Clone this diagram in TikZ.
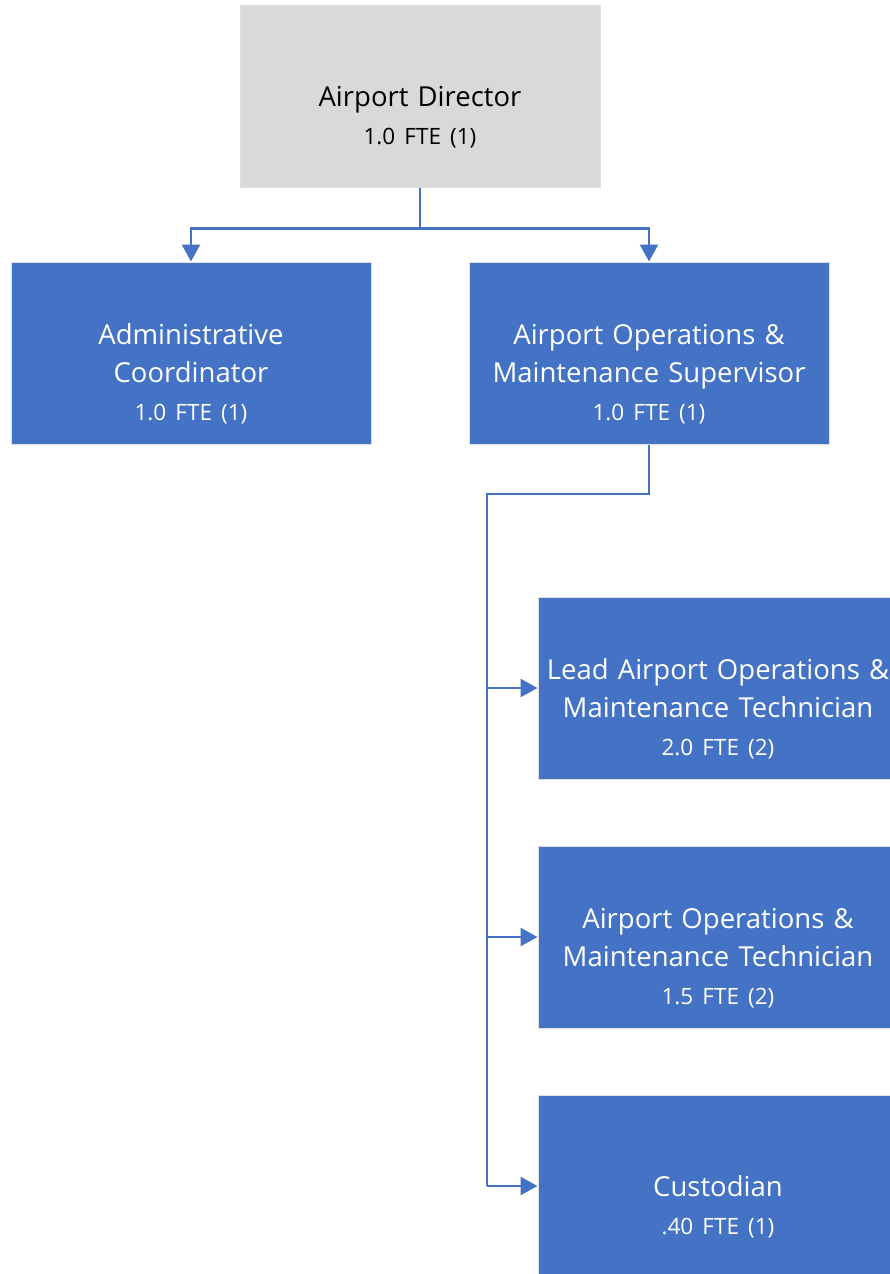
\documentclass[tikz,border=0pt]{standalone}
\usepackage{fontspec}
\setmainfont{Open Sans}
\usetikzlibrary{arrows.meta}
\definecolor{blue}{HTML}{4472C4}
\definecolor{grey}{HTML}{D9D9D9}
\newcommand{\fte}[1]{\\{\fontsize{22.5}{38}\selectfont #1}}

\begin{document}
\begin{tikzpicture}[x=1pt,y=-1pt,
  role/.style={fill=blue,draw=black!12,line width=1pt,text=white,minimum width=360pt,minimum height=182pt,
    inner sep=0pt,text width=356pt,align=center,font=\fontsize{27.5}{38}\selectfont,
    execute at begin node={\rule{0pt}{62pt}}},
  head/.style={role,fill=grey,text=black},
  conn/.style={draw=blue,line width=2.8pt,-{Triangle[width=18pt,length=17pt]}}]
\useasboundingbox (0,0) rectangle (890,1274);

\node[head] (dir) at (420,96) {Airport Director\fte{1.0 FTE (1)}};
\node[role] (admin) at (191,353) {Administrative\\Coordinator\fte{1.0 FTE (1)}};
\node[role] (sup) at (649,353) {Airport Operations \&\\Maintenance Supervisor\fte{1.0 FTE (1)}};
\node[role] (lead) at (718,688) {Lead Airport Operations \&\\Maintenance Technician\fte{2.0 FTE (2)}};
\node[role] (tech) at (718,937) {Airport Operations \&\\Maintenance Technician\fte{1.5 FTE (2)}};
\node[role] (cust) at (718,1186) {Custodian\fte{.40 FTE (1)}};

% director to first row
\draw[conn] (dir.south) -- ++(0,41) -| (admin.north);
\draw[conn] (dir.south) -- ++(0,41) -| (sup.north);

% supervisor to the technicians
\coordinate (trunk) at (487,494);
\draw[blue,line width=2.8pt] (sup.south) |- (trunk) -- (trunk |- cust.west);
\draw[conn] (trunk |- lead.west) -- (lead.west);
\draw[conn] (trunk |- tech.west) -- (tech.west);
\draw[conn] (trunk |- cust.west) -- (cust.west);
\end{tikzpicture}
\end{document}
